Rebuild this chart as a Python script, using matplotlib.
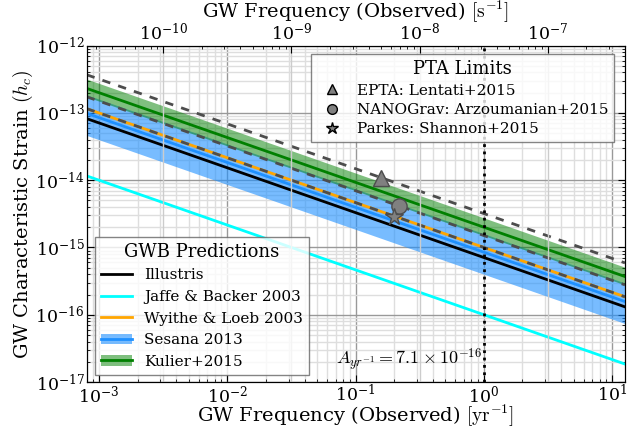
import numpy as np
import matplotlib
matplotlib.use('Agg')
import matplotlib.pyplot as plt
from matplotlib.lines import Line2D
from matplotlib.patches import Patch

plt.rcParams['font.family'] = 'DejaVu Serif'
plt.rcParams['mathtext.fontset'] = 'cm'

YR = 3.15576e7  # seconds per year

# frequency endpoints of the plotted range [1/yr]
freq = [8.0e-4, 12.6]

# GWB predictions, h_c at the two frequency endpoints
illustris = [8.24e-14, 1.31e-16]
jaffe = [1.16e-14, 1.85e-17]
wyithe = [1.16e-13, 1.85e-16]
sesana_mid = [9.87e-14, 1.57e-16]
sesana_lo = [4.64e-14, 7.4e-17]
sesana_hi = [1.86e-13, 2.96e-16]
kulier_mid = [2.32e-13, 3.7e-16]
kulier_lo = [1.74e-13, 2.78e-16]
kulier_hi = [3.19e-13, 5.09e-16]

# PTA limits: point (freq [1/yr], h_c) and extrapolated line endpoints
pta_names = ['EPTA: Lentati+2015', 'NANOGrav: Arzoumanian+2015', 'Parkes: Shannon+2015']
pta_markers = ['^', 'o', '*']
pta_freq = [0.158, 0.218, 0.200]
pta_hc = [1.08e-14, 4.15e-15, 2.88e-15]
pta_lines = [[3.7e-13, 5.9e-16], [1.74e-13, 2.78e-16], [1.16e-13, 1.85e-16]]

fig = plt.figure(figsize=(6.44, 4.32), dpi=100)
ax = fig.add_axes([0.1346, 0.1157, 0.8359, 0.7785])
ax.set_xscale('log')
ax.set_yscale('log')
ax.set_xlim(freq)
ax.set_ylim(1e-17, 1e-12)

# grids
ax.grid(True, which='major', color='0.6', lw=1.0, zorder=0)
ax.grid(True, which='minor', color='0.87', lw=1.0, zorder=0)
ax.set_axisbelow(True)

# bands
ax.fill_between(freq, sesana_lo, sesana_hi, color='dodgerblue', alpha=0.6, lw=0, zorder=2)
ax.fill_between(freq, kulier_lo, kulier_hi, color='green', alpha=0.5, lw=0, zorder=3)

ax.plot(freq, sesana_mid, color='dodgerblue', lw=2, zorder=4)
ax.plot(freq, kulier_mid, color='green', lw=2, zorder=4)
ax.plot(freq, illustris, color='black', lw=2, zorder=5)
ax.plot(freq, jaffe, color='cyan', lw=2, zorder=5)
ax.plot(freq, wyithe, color='orange', lw=2, zorder=5)

for line in pta_lines:
    ax.plot(freq, line, color='0.3', lw=2, ls='--', dashes=(3, 3), zorder=6)

pta_handles = []
for nm, mk, fx, hy in zip(pta_names, pta_markers, pta_freq, pta_hc):
    ms = 13 if mk == '*' else 11
    ax.plot(fx, hy, marker=mk, ms=ms, color='0.5', mec='0.3', mew=1, ls='none', zorder=7)
    pta_handles.append(Line2D([], [], marker=mk, color='0.5', mec='black', mew=1,
                              ms=7 if mk != '*' else 9, ls='none', label=nm))

ax.axvline(1.0, color='black', ls=':', lw=2, zorder=6)

ax.text(0.97, 1.35e-17, r'$A_{yr^{-1}} = 7.1 \times 10^{-16}$', ha='right', va='bottom',
        fontsize=13, zorder=8)

ax.tick_params(which='both', direction='in', top=False, right=True)
ax.tick_params(which='major', length=5, labelsize=12.5, pad=1.5)
ax.tick_params(which='minor', length=2.5)
for lbl in ax.get_xticklabels() + ax.get_yticklabels():
    lbl.set_math_fontfamily('dejavuserif')
ax.set_xlabel(r'GW Frequency (Observed) $[\mathrm{yr}^{-1}]$', fontsize=14)
ax.set_ylabel(r'GW Characteristic Strain $(h_c)$', fontsize=14)
ax.xaxis.set_label_coords(0.5, -0.1)
ax.yaxis.set_label_coords(-0.118, 0.5)
ax.xaxis.label.set_va('center')
ax.yaxis.label.set_va('center')

# top axis in Hz
tax = ax.twiny()
tax.set_xscale('log')
tax.set_xlim(freq[0] / YR, freq[1] / YR)
tax.tick_params(which='both', direction='in')
tax.tick_params(which='major', length=5, labelsize=12.5, pad=1.5)
tax.tick_params(which='minor', length=2.5)
tax.grid(True, which='major', color='0.8', lw=1.0)
for lbl in tax.get_xticklabels():
    lbl.set_math_fontfamily('dejavuserif')
tax.set_xlabel(r'GW Frequency (Observed) $[\mathrm{s}^{-1}]$', fontsize=14)
tax.xaxis.set_label_coords(0.5, 1.1)
tax.xaxis.label.set_va('center')

# legends
gwb_handles = [
    Line2D([], [], color='black', lw=2),
    Line2D([], [], color='cyan', lw=2),
    Line2D([], [], color='orange', lw=2),
    (Patch(color='dodgerblue', alpha=0.6, lw=0), Line2D([], [], color='dodgerblue', lw=2)),
    (Patch(color='green', alpha=0.5, lw=0), Line2D([], [], color='green', lw=2)),
]
gwb_labels = ['Illustris', 'Jaffe & Backer 2003', 'Wyithe & Loeb 2003', 'Sesana 2013', 'Kulier+2015']
leg1 = tax.legend(gwb_handles, gwb_labels, loc='lower left', bbox_to_anchor=(0.0154, 0.021),
                  borderaxespad=0, title='GWB Predictions', fontsize=11, title_fontsize=13,
                  fancybox=False, edgecolor='0.4', framealpha=0.8)
leg1.get_frame().set_linewidth(1.0)
tax.add_artist(leg1)
leg2 = tax.legend(handles=pta_handles, loc='upper right', bbox_to_anchor=(0.98, 0.975),
                  borderaxespad=0, title='PTA Limits', fontsize=11, title_fontsize=13,
                  fancybox=False, edgecolor='0.4', framealpha=0.8, handletextpad=0.6,
                  labelspacing=0.35)
leg2.get_frame().set_linewidth(1.0)

fig.savefig('out.png', dpi=100)
